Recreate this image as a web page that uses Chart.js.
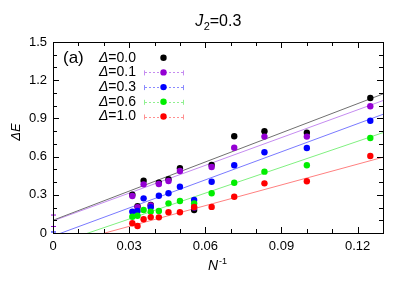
<!DOCTYPE html>
<html><head><meta charset="utf-8">
<script src="https://cdn.jsdelivr.net/npm/chart.js@4/dist/chart.umd.min.js"></script>
<style>html,body{margin:0;padding:0;background:#fff}canvas{display:block}</style>
</head><body><canvas id="c" width="409" height="286"></canvas>
<script>
// x values: inverse system size N^-1 for N = 8,10,...,32
const invN = [0.125, 0.1, 0.0833, 0.0714, 0.0625, 0.0556, 0.05, 0.0455, 0.0417, 0.0385, 0.0357, 0.0333, 0.03125];
// Energy gap ΔE for each anisotropy Δ
const gapD00 = [1.06, 0.788, 0.799, 0.76, 0.534, 0.181, 0.508, 0.422, 0.395, 0.22, 0.411, 0.21, 0.30];
const gapD01 = [0.995, 0.757, 0.757, 0.67, 0.518, 0.20, 0.487, 0.408, 0.385, 0.217, 0.382, 0.202, 0.29];
const gapD03 = [0.882, 0.668, 0.634, 0.532, 0.403, 0.259, 0.364, 0.312, 0.293, 0.202, 0.272, 0.173, 0.168];
const gapD06 = [0.746, 0.532, 0.482, 0.395, 0.312, 0.233, 0.251, 0.233, 0.173, 0.168, 0.181, 0.136, 0.128];
const gapD10 = [0.605, 0.406, 0.39, 0.285, 0.205, 0.205, 0.163, 0.163, 0.123, 0.125, 0.108, 0.055, 0.076];
// linear fits: value at N^-1 = 0 and at N^-1 = 0.13
const fitX = [0, 0.13];
const fitAt0 = [0.10, 0.095, -0.024, -0.094, -0.111];
const fitAtEnd = [1.092, 1.04, 0.932, 0.788, 0.595];
// extrapolated values at N^-1 = 0 (low, high of error bar) for Δ=0.1 and Δ=0.3
const extrapD01 = [0.055, 0.145];
const extrapD03 = [-0.01, 0.012];
const deltaLabels = ['0.0', '0.1', '0.3', '0.6', '1.0'];
const xTickLabels = ['0', '0.03', '0.06', '0.09', '0.12'];
const yTickLabels = ['0', '0.3', '0.6', '0.9', '1.2', '1.5'];

const pointColors = ['#000000', '#9400d3', '#0000ff', '#00ee00', '#ff0000'];
const lineColors = ['#707070', '#c58cf0', '#7a7aff', '#80f080', '#ff8080'];
const barColors = [null, '#c58cf0', '#8a8aff', '#90f090', '#ff9090'];
const series = [gapD00, gapD01, gapD03, gapD06, gapD10];
const FONT = '"Liberation Sans", Arial, Helvetica, sans-serif';

const datasets = [];
series.forEach((s, i) => {
  datasets.push({
    type: 'line',
    data: fitX.map((x, k) => ({x: x, y: k === 0 ? fitAt0[i] : fitAtEnd[i]})),
    borderColor: lineColors[i], borderWidth: 1, pointRadius: 0, fill: false,
    order: 20 + i
  });
});
series.forEach((s, i) => {
  datasets.push({
    type: 'scatter',
    data: invN.map((x, k) => ({x: x, y: s[k]})),
    backgroundColor: pointColors[i], borderWidth: 0, pointRadius: 3.2,
    order: 10 - i
  });
});

function near(v, step) { return Math.abs(v / step - Math.round(v / step)) < 1e-6; }

const decor = {
  id: 'decor',
  afterDatasetsDraw(chart) {
    const ctx = chart.ctx, a = chart.chartArea;
    const xs = chart.scales.x, ys = chart.scales.y;
    ctx.save();
    // extrapolated error bars at x = 0
    [[extrapD01, '#9400d3'], [extrapD03, '#0000ff']].forEach(([b, c]) => {
      const px = xs.getPixelForValue(0);
      const y1 = ys.getPixelForValue(Math.max(b[0], 0)), y2 = ys.getPixelForValue(b[1]);
      ctx.strokeStyle = c; ctx.lineWidth = 1;
      ctx.beginPath();
      ctx.moveTo(px + 0.5, y1); ctx.lineTo(px + 0.5, y2);
      ctx.moveTo(px - 2, y2 + 0.5); ctx.lineTo(px + 3, y2 + 0.5);
      if (b[0] >= 0) { ctx.moveTo(px - 2, y1 + 0.5); ctx.lineTo(px + 3, y1 + 0.5); }
      ctx.stroke();
    });
    // frame
    ctx.strokeStyle = '#000'; ctx.lineWidth = 1;
    ctx.strokeRect(Math.round(a.left) + 0.5, Math.round(a.top) + 0.5,
      Math.round(a.right - a.left), Math.round(a.bottom - a.top));
    // ticks (inside, mirrored)
    ctx.beginPath();
    xs.ticks.forEach(t => {
      const p = Math.round(xs.getPixelForValue(t.value)) + 0.5;
      const L = near(t.value, 0.03) ? 6 : 4;
      ctx.moveTo(p, a.bottom); ctx.lineTo(p, a.bottom - L);
      ctx.moveTo(p, a.top); ctx.lineTo(p, a.top + L);
    });
    ys.ticks.forEach(t => {
      const p = Math.round(ys.getPixelForValue(t.value)) + 0.5;
      const L = near(t.value, 0.3) ? 6 : 4;
      ctx.moveTo(a.left, p); ctx.lineTo(a.left + L, p);
      ctx.moveTo(a.right, p); ctx.lineTo(a.right - L, p);
    });
    ctx.stroke();

    // title J_2=0.3
    ctx.fillStyle = '#000';
    ctx.textBaseline = 'alphabetic';
    const cx = (a.left + a.right) / 2;
    const f1 = 'italic 16px ' + FONT, f2 = '11px ' + FONT, f3 = '16px ' + FONT;
    ctx.font = f1; const wJ = ctx.measureText('J').width;
    ctx.font = f2; const w2 = ctx.measureText('2').width;
    ctx.font = f3; const wR = ctx.measureText('=0.3').width;
    let tx = cx - (wJ + w2 + wR) / 2;
    ctx.font = f1; ctx.fillText('J', tx, 26); tx += wJ + 0.5;
    ctx.font = f2; ctx.fillText('2', tx, 30); tx += w2;
    ctx.font = f3; ctx.fillText('=0.3', tx, 26);

    // x axis title N^-1
    const fN = 'italic 14px ' + FONT, fS = '9px ' + FONT;
    ctx.font = fN; const wN = ctx.measureText('N').width;
    ctx.font = fS; const wS = ctx.measureText('-1').width;
    let nx = cx - (wN + wS) / 2 - 1;
    ctx.font = fN; ctx.fillText('N', nx, 270);
    ctx.font = fS; ctx.fillText('-1', nx + wN + 1, 264);

    // y axis title ΔE
    ctx.save();
    ctx.translate(20, 132);
    ctx.rotate(-Math.PI / 2);
    ctx.font = 'italic 13px ' + FONT;
    const wy = ctx.measureText('ΔE').width;
    ctx.fillText('ΔE', -wy / 2, 0);
    ctx.restore();

    // panel label
    ctx.font = '17px ' + FONT;
    ctx.textBaseline = 'middle';
    ctx.fillText('(a)', 63, 58);

    // legend
    const rowY = [57.7, 72.4, 87.1, 101.8, 116.5];
    deltaLabels.forEach((lab, i) => {
      const y = rowY[i];
      ctx.font = 'italic 14px ' + FONT; const wd = ctx.measureText('Δ').width;
      ctx.font = '14px ' + FONT; const wr = ctx.measureText('=' + lab).width;
      const x0 = 136 - wd - wr;
      ctx.fillStyle = '#000';
      ctx.font = 'italic 14px ' + FONT; ctx.fillText('Δ', x0, y);
      ctx.font = '14px ' + FONT; ctx.fillText('=' + lab, x0 + wd, y);
      if (barColors[i]) {
        ctx.strokeStyle = barColors[i]; ctx.lineWidth = 1;
        ctx.setLineDash([2, 2]);
        ctx.beginPath(); ctx.moveTo(145, Math.round(y) + 0.5); ctx.lineTo(183, Math.round(y) + 0.5); ctx.stroke();
        ctx.setLineDash([]);
        ctx.beginPath();
        ctx.moveTo(144.5, y - 2); ctx.lineTo(144.5, y + 3);
        ctx.moveTo(183.5, y - 2); ctx.lineTo(183.5, y + 3);
        ctx.stroke();
      }
      ctx.fillStyle = pointColors[i];
      ctx.beginPath(); ctx.arc(163.5, y, 3.2, 0, Math.PI * 2); ctx.fill();
    });
    ctx.restore();
  }
};

new Chart(document.getElementById('c'), {
  type: 'scatter',
  data: {datasets},
  options: {
    responsive: false, animation: false, devicePixelRatio: 1,
    layout: {padding: {left: 0, right: 26, top: 42, bottom: 0}},
    plugins: {legend: {display: false}, tooltip: {enabled: false}, title: {display: false}},
    scales: {
      x: {
        type: 'linear', min: 0, max: 0.13,
        grid: {display: false, drawTicks: false}, border: {display: false},
        afterFit(s) { s.height = 53; },
        ticks: {
          stepSize: 0.01, autoSkip: false, maxRotation: 0, padding: 6,
          color: '#000', font: {family: FONT, size: 13},
          callback: v => near(v, 0.03) ? (xTickLabels[Math.round(v / 0.03)] ?? '') : ''
        }
      },
      y: {
        min: 0, max: 1.5,
        grid: {display: false, drawTicks: false}, border: {display: false},
        afterFit(s) { s.width = 53; },
        ticks: {
          stepSize: 0.1, autoSkip: false, padding: 6,
          color: '#000', font: {family: FONT, size: 13},
          callback: v => near(v, 0.3) ? (yTickLabels[Math.round(v / 0.3)] ?? '') : ''
        }
      }
    }
  },
  plugins: [decor]
});
</script></body></html>
